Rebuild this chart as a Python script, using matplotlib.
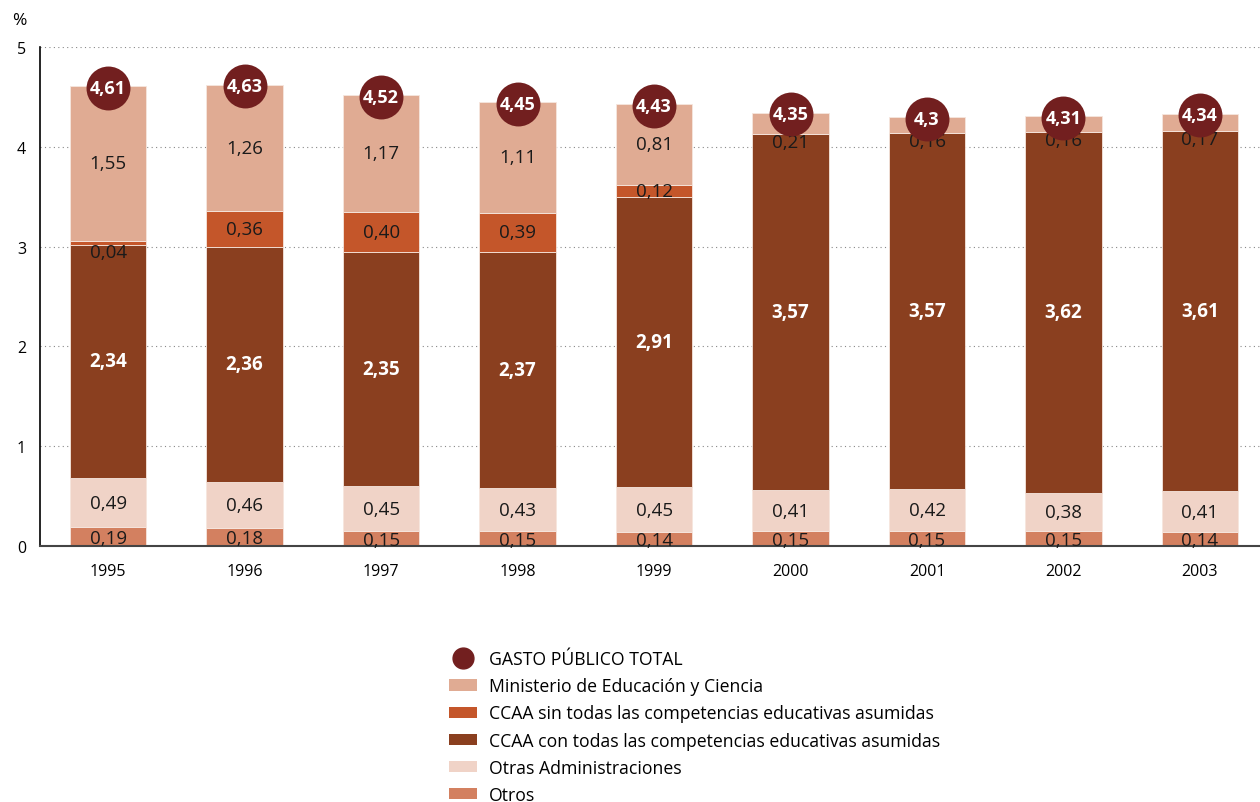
import matplotlib.pyplot as plt
import numpy as np
from matplotlib.patches import Patch
from matplotlib.lines import Line2D

plt.rcParams['font.family'] = ['Open Sans', 'DejaVu Sans']

# Data (% del PIB)
years = ['1995', '1996', '1997', '1998', '1999', '2000', '2001', '2002', '2003']
otros = [0.19, 0.18, 0.15, 0.15, 0.14, 0.15, 0.15, 0.15, 0.14]
otras_admin = [0.49, 0.46, 0.45, 0.43, 0.45, 0.41, 0.42, 0.38, 0.41]
ccaa_con = [2.34, 2.36, 2.35, 2.37, 2.91, 3.57, 3.57, 3.62, 3.61]
ccaa_sin = [0.04, 0.36, 0.40, 0.39, 0.12, 0, 0, 0, 0]
ministerio = [1.55, 1.26, 1.17, 1.11, 0.81, 0.21, 0.16, 0.16, 0.17]
total = [4.61, 4.63, 4.52, 4.45, 4.43, 4.35, 4.3, 4.31, 4.34]

colors = {
    'otros': '#D38060',
    'otras': '#F0D3C7',
    'con': '#8A3F1F',
    'sin': '#C4562A',
    'min': '#E0AB93',
    'total': '#721F1F',
}


def fmt(v):
    return f'{v:.2f}'.replace('.', ',')


fig = plt.figure(figsize=(12.6, 8.03), dpi=100)
ax = fig.add_axes([0.0317, 0.3188, 0.9683, 0.6215])

x = np.arange(len(years))
w = 0.56
series = [
    (otros, colors['otros']),
    (otras_admin, colors['otras']),
    (ccaa_con, colors['con']),
    (ccaa_sin, colors['sin']),
    (ministerio, colors['min']),
]
bottom = np.zeros(len(years))
bottoms = []
for vals, c in series:
    vals = np.array(vals)
    ax.bar(x, vals, w, bottom=bottom, color=c, edgecolor='#f6e6de',
           linewidth=0.6, zorder=2)
    bottoms.append(bottom.copy())
    bottom = bottom + vals

lab_fs = 13.5
dark = '#1a1a1a'
# segment labels
for i in range(len(years)):
    # Otros
    ax.text(x[i], bottoms[0][i] + otros[i] / 2 - 0.01, fmt(otros[i]),
            ha='center', va='center', fontsize=lab_fs, color=dark, zorder=4)
    # Otras administraciones
    ax.text(x[i], bottoms[1][i] + otras_admin[i] / 2, fmt(otras_admin[i]),
            ha='center', va='center', fontsize=lab_fs, color=dark, zorder=4)
    # CCAA con todas
    ax.text(x[i], bottoms[2][i] + ccaa_con[i] / 2, fmt(ccaa_con[i]),
            ha='center', va='center', fontsize=lab_fs, color='white',
            fontweight='bold', zorder=4)
    # CCAA sin todas
    if ccaa_sin[i] > 0:
        if ccaa_sin[i] < 0.1:
            yy = bottoms[3][i] - 0.07
        else:
            yy = bottoms[3][i] + ccaa_sin[i] / 2
        ax.text(x[i], yy, fmt(ccaa_sin[i]), ha='center', va='center',
                fontsize=lab_fs, color=dark, zorder=4)
    # Ministerio
    if ministerio[i] < 0.3:
        yy = bottoms[4][i] - 0.08
    else:
        yy = bottoms[4][i] + ministerio[i] / 2
    ax.text(x[i], yy, fmt(ministerio[i]), ha='center', va='center',
            fontsize=lab_fs, color=dark, zorder=4)

# total circles
ax.scatter(x, np.array(total) - 0.02, s=1000, color=colors['total'], zorder=5,
           clip_on=False, linewidths=0)
for i in range(len(years)):
    t = str(total[i]).replace('.', ',')
    ax.text(x[i], total[i] - 0.02, t, ha='center', va='center', fontsize=13,
            color='white', fontweight='bold', zorder=6)

ax.set_xlim(-0.5, 8.44)
ax.set_ylim(0, 5)
ax.set_yticks([0, 1, 2, 3, 4, 5])
ax.set_yticklabels(['0', '1', '2', '3', '4', '5'], fontsize=11.5)
ax.set_xticks(x)
ax.set_xticklabels(years, fontsize=11.5)
ax.tick_params(axis='both', length=0)
ax.tick_params(axis='x', pad=12)
ax.tick_params(axis='y', pad=10)
for yv in [1, 2, 3, 4, 5]:
    ax.axhline(yv, color='#888888', linestyle=(0, (1, 3)), linewidth=0.8, zorder=1)
for side in ['top', 'right']:
    ax.spines[side].set_visible(False)
ax.spines['left'].set_color('black')
ax.spines['left'].set_linewidth(1.2)
ax.spines['bottom'].set_color('#444444')
ax.spines['bottom'].set_linewidth(1.5)

fig.text(0.010, 0.974, '%', fontsize=12.5, ha='left', va='center')

handles = [
    Line2D([0], [0], marker='o', color='none', markerfacecolor=colors['total'],
           markeredgecolor=colors['total'], markersize=15),
    Patch(facecolor=colors['min']),
    Patch(facecolor=colors['sin']),
    Patch(facecolor=colors['con']),
    Patch(facecolor=colors['otras']),
    Patch(facecolor=colors['otros']),
]
labels = [
    'GASTO PÚBLICO TOTAL',
    'Ministerio de Educación y Ciencia',
    'CCAA sin todas las competencias educativas asumidas',
    'CCAA con todas las competencias educativas asumidas',
    'Otras Administraciones',
    'Otros',
]
fig.legend(handles, labels, loc='upper left', bbox_to_anchor=(0.3505, 0.198),
           frameon=False, fontsize=12.7, handlelength=1.6, handleheight=0.6,
           handletextpad=0.7, labelspacing=0.52, borderaxespad=0)

fig.savefig('out.png', dpi=100, facecolor='white')
